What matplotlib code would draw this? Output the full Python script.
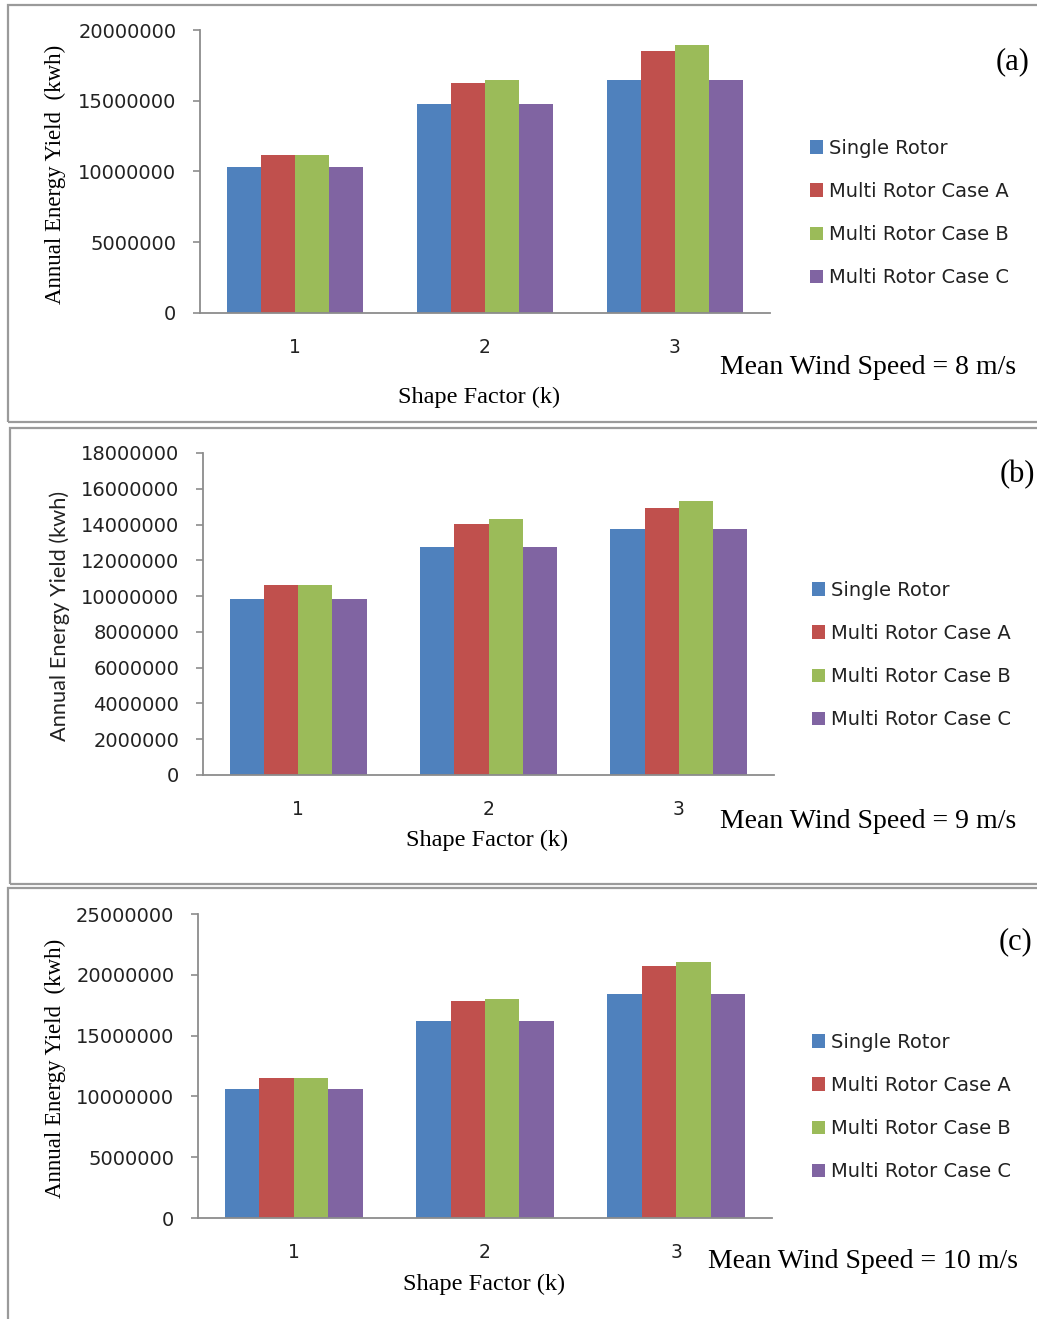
import matplotlib
matplotlib.use("Agg")
import matplotlib.pyplot as plt
from matplotlib.patches import Rectangle, Patch
import numpy as np

W, H = 1037, 1319

shape_factors = ["1", "2", "3"]
series_names = ["Single Rotor", "Multi Rotor Case A", "Multi Rotor Case B", "Multi Rotor Case C"]
colors = ["#4F81BD", "#C0504D", "#9BBB59", "#8064A2"]

# panel (a) mean wind speed 8 m/s
a_single = [10340000, 14750000, 16500000]
a_case_a = [11200000, 16280000, 18540000]
a_case_b = [11200000, 16500000, 18940000]
a_case_c = [10340000, 14750000, 16500000]

# panel (b) mean wind speed 9 m/s
b_single = [9830000, 12740000, 13750000]
b_case_a = [10630000, 14030000, 14920000]
b_case_b = [10630000, 14330000, 15330000]
b_case_c = [9830000, 12740000, 13750000]

# panel (c) mean wind speed 10 m/s
c_single = [10600000, 16200000, 18430000]
c_case_a = [11480000, 17830000, 20760000]
c_case_b = [11480000, 17990000, 21040000]
c_case_c = [10600000, 16200000, 18430000]

a_ticks = [0, 5000000, 10000000, 15000000, 20000000]
b_ticks = [0, 2000000, 4000000, 6000000, 8000000, 10000000, 12000000, 14000000, 16000000, 18000000]
c_ticks = [0, 5000000, 10000000, 15000000, 20000000, 25000000]

panel_labels = ["(a)", "(b)", "(c)"]
wind_labels = ["Mean Wind Speed = 8 m/s", "Mean Wind Speed = 9 m/s", "Mean Wind Speed = 10 m/s"]
xlabel = "Shape Factor (k)"
ylabel = "Annual Energy Yield  (kwh)"
ylabel_b = "Annual Energy Yield (kwh)"

fig = plt.figure(figsize=(W / 100, H / 100), dpi=100)
fig.patch.set_facecolor("white")

def fbox(x0, y0, x1, y1):
    return [x0 / W, 1 - y1 / H, (x1 - x0) / W, (y1 - y0) / H]

def fx(x):
    return x / W

def fy(y):
    return 1 - y / H

panels = [
    dict(data=[a_single, a_case_a, a_case_b, a_case_c], ticks=a_ticks,
         ax=(200, 30, 770, 313), box=(8, 5, 1045, 422),
         ylab=(55, 174), ylab_serif=True, xlab=(479, 397),
         wind=(1016, 367), plab=(1013, 62), leg=(810, 213)),
    dict(data=[b_single, b_case_a, b_case_b, b_case_c], ticks=b_ticks,
         ax=(203, 453, 774, 775), box=(10, 428, 1045, 884),
         ylab=(60, 616), ylab_serif=False, xlab=(487, 840),
         wind=(1016, 822), plab=(1017, 475), leg=(812, 655)),
    dict(data=[c_single, c_case_a, c_case_b, c_case_c], ticks=c_ticks,
         ax=(198, 914, 772, 1218), box=(8, 888, 1045, 1335),
         ylab=(55, 1068), ylab_serif=True, xlab=(484, 1284),
         wind=(1018, 1262), plab=(1016, 942), leg=(812, 1107)),
]

serif = ["Liberation Serif", "DejaVu Serif"]
sans = ["DejaVu Sans"]
axis_gray = "#8C8C8C"

x = np.arange(1, len(shape_factors) + 1)
bw = 0.18
offsets = [-1.5, -0.5, 0.5, 1.5]

for i, p in enumerate(panels):
    bx0, by0, bx1, by1 = p["box"]
    fig.patches.append(Rectangle((fx(bx0), fy(by1)), (bx1 - bx0) / W, (by1 - by0) / H,
                                 transform=fig.transFigure, fill=False,
                                 edgecolor="#9A9A9A", linewidth=1.6))
    ax = fig.add_axes(fbox(*p["ax"]))
    for s, vals in enumerate(p["data"]):
        ax.bar(x + offsets[s] * bw, vals, width=bw, color=colors[s], linewidth=0,
               label=series_names[s])
    ax.set_xlim(0.5, 3.5)
    ax.set_ylim(p["ticks"][0], p["ticks"][-1])
    ax.set_yticks(p["ticks"])
    ax.set_yticklabels([str(t) for t in p["ticks"]], fontsize=14, family=sans, color="#222222")
    ax.set_xticks(x)
    ax.set_xticklabels(shape_factors, fontsize=13.5, family=sans, color="#222222")
    for sp in ["top", "right"]:
        ax.spines[sp].set_visible(False)
    for sp in ["left", "bottom"]:
        ax.spines[sp].set_color(axis_gray)
        ax.spines[sp].set_linewidth(1.3)
    ax.tick_params(axis="y", direction="out", length=5, width=1.2, color=axis_gray, pad=12)
    ax.tick_params(axis="x", length=0, pad=18)

    if p["ylab_serif"]:
        fig.text(fx(p["ylab"][0]), fy(p["ylab"][1]), ylabel, rotation=90, ha="center", va="center",
                 fontsize=16.5, family=serif)
    else:
        fig.text(fx(p["ylab"][0]), fy(p["ylab"][1]), ylabel_b, rotation=90, ha="center", va="center",
                 fontsize=15.7, family=["Lato", "DejaVu Sans"], color="#222222")
    fig.text(fx(p["xlab"][0]), fy(p["xlab"][1]), xlabel, ha="center", va="center",
             fontsize=17.5, family=serif)
    fig.text(fx(p["wind"][0]), fy(p["wind"][1]), wind_labels[i], ha="right", va="center",
             fontsize=20, family=serif)
    fig.text(fx(p["plab"][0]), fy(p["plab"][1]), panel_labels[i], ha="center", va="center",
             fontsize=22, family=serif)

    leg_handles = [Patch(facecolor=colors[s], edgecolor="none") for s in range(4)]
    leg = ax.legend(leg_handles, series_names, loc="center left",
                    bbox_to_anchor=(fx(p["leg"][0]), fy(p["leg"][1])),
                    bbox_transform=fig.transFigure, frameon=False,
                    handlelength=0.68, handleheight=0.68, handletextpad=0.3,
                    labelspacing=1.24, borderpad=0, borderaxespad=0,
                    prop={"family": "DejaVu Sans", "size": 14})
    for t in leg.get_texts():
        t.set_color("#222222")

fig.savefig("out.png", dpi=100, facecolor="white")
